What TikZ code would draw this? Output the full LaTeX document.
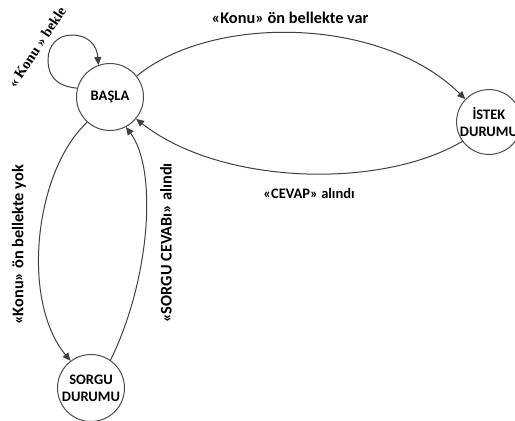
\documentclass[tikz,border=0pt]{standalone}
\usepackage{fontspec}
\setmainfont{Carlito}
\newfontfamily\loopfont{Liberation Serif}
\usetikzlibrary{arrows.meta}
\begin{document}
\begin{tikzpicture}[x=1pt,y=-1pt,
  state/.style={circle,draw=black!70,line width=1pt,fill=white,minimum size=67pt,inner sep=0pt,
    align=center,font=\fontsize{14.5}{17}\selectfont\bfseries},
  edge/.style={draw=black!75,line width=1pt,-{Triangle[length=8pt,width=7pt]}},
  lbl/.style={font=\fontsize{16.3}{18}\selectfont\bfseries,inner sep=0pt}]
\useasboundingbox (0,0) rectangle (515,421);
\clip (0,0) rectangle (515,421);

% states
\node[state] (basla) at (110,97) {BAŞLA};
\node[state,minimum size=63pt] (istek) at (489,122) {İSTEK\\DURUMU};
\node[state] (sorgu) at (91,388) {SORGU\\DURUMU};

% self loop on the start state
\draw[edge] (basla.165) .. controls (55,86) and (48,75) .. (48,60)
  .. controls (48,45) and (58,35) .. (72,35)
  .. controls (88,35) and (97,45) .. (basla.110);
\node[font=\loopfont\fontsize{14.5}{16}\selectfont\bfseries,rotate=56.6,inner sep=0pt] (lloop) at (37,47) {« Konu » bekle};

% start <-> request
\draw[edge] (basla.38) .. controls (210,15) and (380,15) .. (istek.136);
\draw[edge] (istek.216) .. controls (380,190) and (220,185) .. (basla.-40);
\node[lbl] (lvar) at (290,18) {«Konu» ön bellekte var};
\node[lbl,font=\fontsize{14.5}{17}\selectfont\bfseries] (lcevap) at (309,193) {«CEVAP» alındı};

% start <-> query
\draw[edge] (basla.-132) .. controls (35,170) and (20,300) .. (sorgu.127);
\draw[edge] (sorgu.55) .. controls (150,280) and (158,170) .. (basla.-62);
\node[lbl,rotate=90] (lyok) at (19,245) {«Konu» ön bellekte yok};
\node[lbl,rotate=90] (lsorgu) at (166,243) {«SORGU CEVABı» alındı};
\end{tikzpicture}
\end{document}
